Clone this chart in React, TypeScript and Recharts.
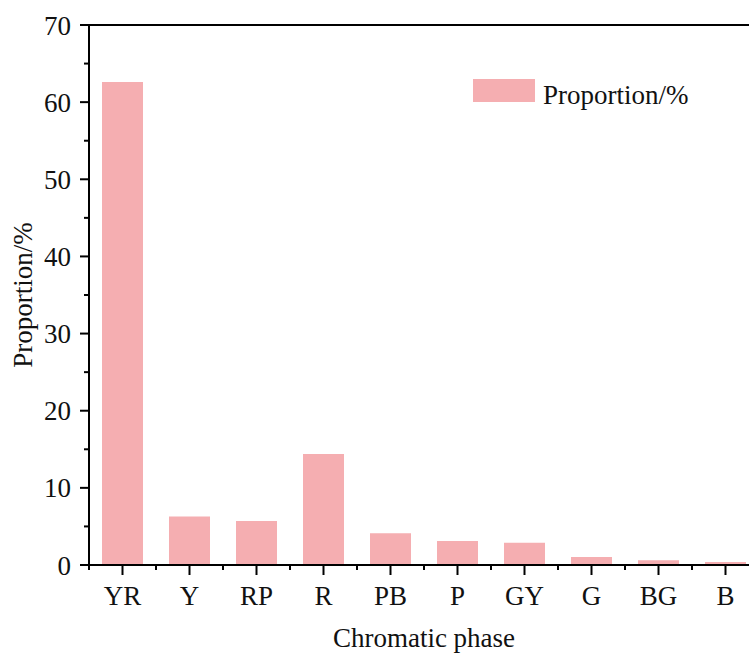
import React from 'react';
import { BarChart, Bar, XAxis, YAxis, ReferenceLine } from 'recharts';

const categories = ['YR', 'Y', 'RP', 'R', 'PB', 'P', 'GY', 'G', 'BG', 'B'];
const proportions = [62.6, 6.3, 5.7, 14.4, 4.1, 3.1, 2.9, 1.05, 0.6, 0.4];
const yTicks = [0, 5, 10, 15, 20, 25, 30, 35, 40, 45, 50, 55, 60, 65, 70];
const seriesName = 'Proportion/%';
const xLabel = 'Chromatic phase';
const yLabel = 'Proportion/%';

const data = categories.map((c, i) => ({ name: c, value: proportions[i] }));

const FONT = '"Liberation Serif", "Times New Roman", serif';
const BAR_COLOR = '#F5AEB1';
const PLOT_LEFT = 89;
const PLOT_BOTTOM = 565;
const BAND = 67;

const YTick = (props: any) => {
  const { x, y, payload } = props;
  const v = payload.value;
  const major = v % 10 === 0;
  return (
    <g>
      <line x1={PLOT_LEFT - (major ? 9 : 5)} x2={PLOT_LEFT} y1={y} y2={y} stroke="#000" strokeWidth={2} />
      {major && (
        <text x={x} y={y} dy="0.355em" textAnchor="end" fontFamily={FONT} fontSize={27} fill="#111">
          {v}
        </text>
      )}
    </g>
  );
};

const XTick = (props: any) => {
  const { x, y, payload } = props;
  return (
    <g>
      <line x1={x} x2={x} y1={PLOT_BOTTOM} y2={PLOT_BOTTOM + 10} stroke="#000" strokeWidth={2} />
      <line x1={x - BAND / 2} x2={x - BAND / 2} y1={PLOT_BOTTOM} y2={PLOT_BOTTOM + 5} stroke="#000" strokeWidth={2} />
      <line x1={x + BAND / 2} x2={x + BAND / 2} y1={PLOT_BOTTOM} y2={PLOT_BOTTOM + 5} stroke="#000" strokeWidth={2} />
      <text x={x} y={y} dy="0.71em" textAnchor="middle" fontFamily={FONT} fontSize={27} fill="#111">
        {payload.value}
      </text>
    </g>
  );
};

const YLabel = (props: any) => {
  const vb = props.viewBox || { x: 0, y: 25, width: 89, height: 540 };
  const cx = 32;
  const cy = vb.y + vb.height / 2;
  return (
    <text x={cx} y={cy} transform={`rotate(-90, ${cx}, ${cy})`} textAnchor="middle" fontFamily={FONT} fontSize={27} fill="#111">
      {yLabel}
    </text>
  );
};

const XLabel = (props: any) => {
  const vb = props.viewBox || { x: 89, y: 565, width: 670, height: 89 };
  return (
    <text x={vb.x + vb.width / 2} y={647} textAnchor="middle" fontFamily={FONT} fontSize={27} fill="#111">
      {xLabel}
    </text>
  );
};

export default function App() {
  return (
    <div style={{ position: 'absolute', left: 0, top: 0, width: 749, height: 654, overflow: 'hidden', background: '#fff' }}>
      <BarChart width={800} height={654} data={data} margin={{ top: 25, right: 41, bottom: 0, left: 0 }}>
        <XAxis
          dataKey="name"
          height={89}
          tickSize={10}
          tickMargin={11}
          tickLine={false}
          tick={<XTick />}
          interval={0}
          axisLine={{ stroke: '#000', strokeWidth: 2 }}
          label={<XLabel />}
        />
        <YAxis
          width={89}
          domain={[0, 70]}
          ticks={yTicks}
          interval={0}
          tickSize={9}
          tickMargin={9}
          tickLine={false}
          tick={<YTick />}
          axisLine={{ stroke: '#000', strokeWidth: 2 }}
          label={<YLabel />}
        />
        <ReferenceLine y={70} stroke="#000" strokeWidth={2} />
        <Bar dataKey="value" name={seriesName} fill={BAR_COLOR} barSize={41} isAnimationActive={false} />
      </BarChart>
      <div style={{ position: 'absolute', left: 473, top: 79, display: 'flex', alignItems: 'flex-start' }}>
        <div style={{ width: 62, height: 23, background: BAR_COLOR }} />
        <span style={{ marginLeft: 8, marginTop: 3, fontFamily: FONT, fontSize: 27, lineHeight: '26px', color: '#111', whiteSpace: 'nowrap' }}>
          {seriesName}
        </span>
      </div>
    </div>
  );
}
